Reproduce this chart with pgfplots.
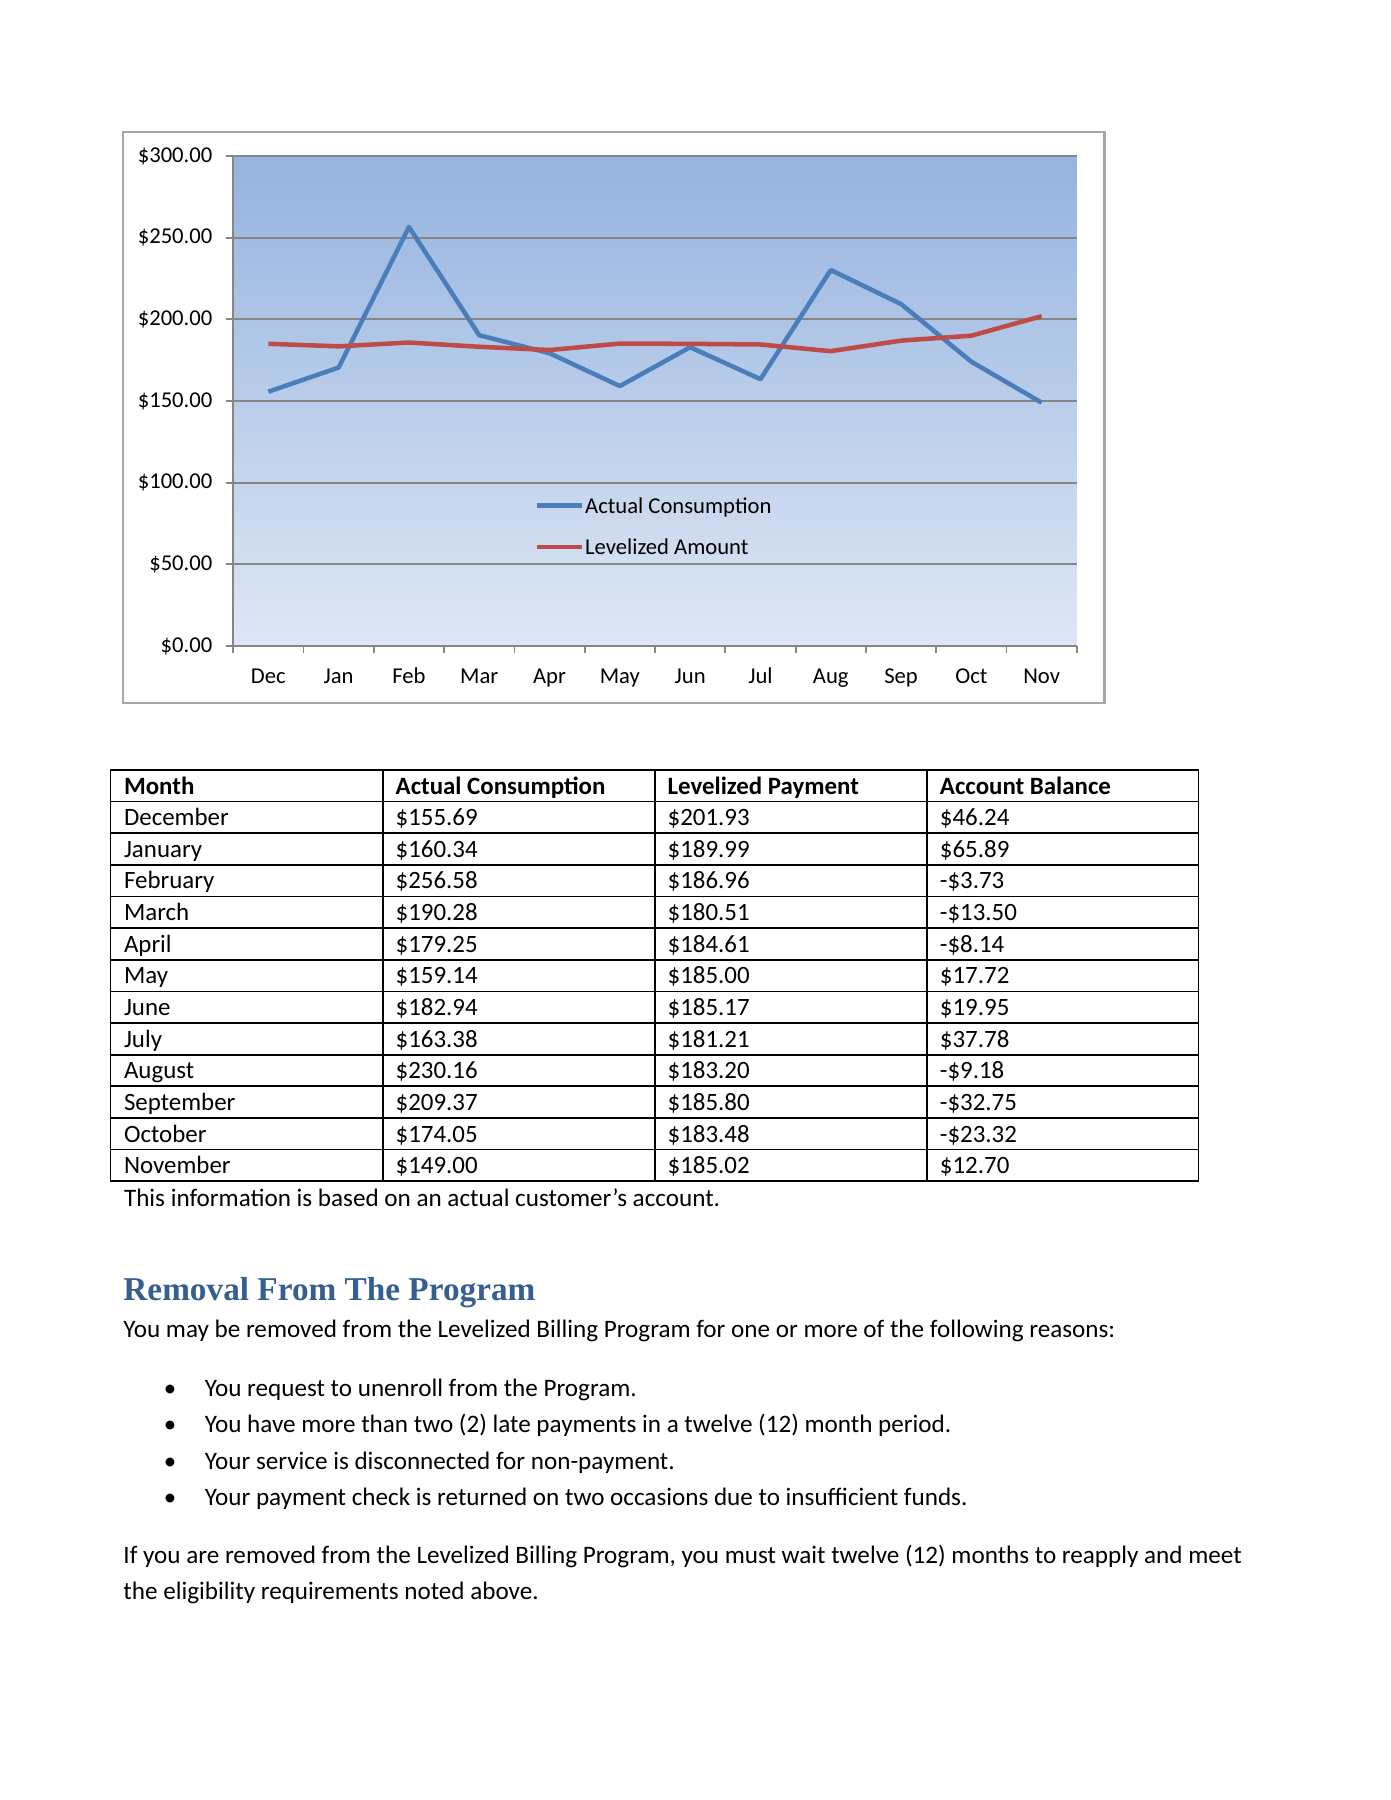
\documentclass[border=0pt]{standalone}
\usepackage{pgfplots}
\pgfplotsset{compat=1.18}
\usepackage{fontspec}
\setmainfont{Carlito}
\newfontfamily\headfont{Liberation Serif}
\definecolor{serA}{HTML}{4A7EBB}
\definecolor{serB}{HTML}{BE4B48}
\definecolor{gridc}{HTML}{868686}
\definecolor{framec}{HTML}{A6A6A6}
\definecolor{bgtop}{HTML}{95B3DF}
\definecolor{bgbot}{HTML}{DEE7F5}
\definecolor{headc}{HTML}{365F91}
% 1 px of the reference page (letter size, 1391x1800)
\def\u{0.44165pt}
\newcommand\bodyf{\fontsize{11}{13}\selectfont}
\newcommand\parf{\fontsize{11.1}{13}\selectfont}

\begin{document}
\begin{tikzpicture}
\begin{scope}[x=\u, y=-\u]
  \fill[white] (0,0) rectangle (1391,1800);
  % chart frame
  \draw[framec, line width=1pt] (123,132) rectangle (1104.6,703);

  % table
  \foreach \k in {0,...,13}
    \draw[line width=0.75pt] (110.4,770+31.63*\k) -- (1198.6,770+31.63*\k);
  \foreach \xx in {110.4,382.8,654.8,927,1198.6}
    \draw[line width=0.75pt] (\xx,770) -- (\xx,1181.2);
  \foreach \c/\xx in {Month/123.6, Actual Consumption/395.2, Levelized Payment/667.2, Account Balance/939.5}
    \node[anchor=base west, inner sep=0pt, font=\bodyf\bfseries] at (\xx,794.1) {\c};
  \foreach \r/\m/\a/\l/\b in {
     1/December/155.69/201.93/\$46.24,
     2/January/160.34/189.99/\$65.89,
     3/February/256.58/186.96/-\$3.73,
     4/March/190.28/180.51/-\$13.50,
     5/April/179.25/184.61/-\$8.14,
     6/May/159.14/185.00/\$17.72,
     7/June/182.94/185.17/\$19.95,
     8/July/163.38/181.21/\$37.78,
     9/August/230.16/183.20/-\$9.18,
     10/September/209.37/185.80/-\$32.75,
     11/October/174.05/183.48/-\$23.32,
     12/November/149.00/185.02/\$12.70}{
    \node[anchor=base west, inner sep=0pt, font=\bodyf] at (123.6,794.1+31.63*\r) {\m};
    \node[anchor=base west, inner sep=0pt, font=\bodyf] at (395.2,794.1+31.63*\r) {\$\a};
    \node[anchor=base west, inner sep=0pt, font=\bodyf] at (667.2,794.1+31.63*\r) {\$\l};
    \node[anchor=base west, inner sep=0pt, font=\bodyf] at (939.5,794.1+31.63*\r) {\b};
  }
  \node[anchor=base west, inner sep=0pt, font=\parf] at (123.6,1206) {This information is based on an actual customer’s account.};

  % text below
  \node[anchor=base west, inner sep=0pt, font=\fontsize{14.7}{17}\selectfont\headfont\bfseries, text=headc] at (123,1300.7) {Removal From The Program};
  \node[anchor=base west, inner sep=0pt, font=\parf] at (123,1337.5) {You may be removed from the Levelized Billing Program for one or more of the following reasons:};
  \foreach \yy/\t in {1396/You request to unenroll from the Program.,
      1432.5/You have more than two (2) late payments in a twelve (12) month period.,
      1469/Your service is disconnected for non-payment.,
      1505.5/Your payment check is returned on two occasions due to insufficient funds.}{
    \node[anchor=base, inner sep=0pt, font=\bodyf] at (170,\yy) {\textbullet};
    \node[anchor=base west, inner sep=0pt, font=\parf] at (204.3,\yy) {\t};
  }
  \node[anchor=base west, inner sep=0pt, font=\parf] at (123,1563) {If you are removed from the Levelized Billing Program, you must wait twelve (12) months to reapply and meet};
  \node[anchor=base west, inner sep=0pt, font=\parf] at (123,1599) {the eligibility requirements noted above.};
\end{scope}

\begin{axis}[
  at={(233.2*\u,-646*\u)}, anchor=south west,
  scale only axis, width=372.58pt, height=216.41pt,
  xmin=-0.5, xmax=11.5, ymin=0, ymax=300,
  xtick={0,...,11},
  xticklabels={Dec,Jan,Feb,Mar,Apr,May,Jun,Jul,Aug,Sep,Oct,Nov},
  minor xtick={-0.5,0.5,...,11.5},
  ytick={0,50,...,300},
  yticklabels={\$0.00,\$50.00,\$100.00,\$150.00,\$200.00,\$250.00,\$300.00},
  ymajorgrids, grid style={gridc, line width=0.8pt},
  axis x line*=bottom, axis y line*=left,
  axis line style={gridc, line width=0.8pt},
  tick align=outside,
  major tick length=3.1pt, minor tick length=3.1pt,
  tick style={gridc, line width=0.8pt},
  major x tick style={draw=none},
  axis background/.style={top color=bgtop, bottom color=bgbot},
  ticklabel style={font=\fontsize{10}{12}\selectfont, inner sep=0pt},
  yticklabel style={anchor=east, xshift=-5.9pt},
  xticklabel style={anchor=base, yshift=-13.4pt},
  legend style={draw=none, fill=none, inner sep=0pt, outer sep=0pt,
    at={(rel axis cs:0.3571,0.3031)}, anchor=north west,
    font=\fontsize{10}{12}\selectfont, row sep=9.24pt, column sep=0.4pt,
    nodes={inner sep=0pt, text height=7pt, text depth=2pt},
    cells={anchor=base west}},
  legend image code/.code={\draw[#1] (0pt,3.4pt) -- (20pt,3.4pt);},
]
\addplot[serA, line width=2pt, line join=round] coordinates {
  (0,155.69) (1,170.5) (2,256.58) (3,190.28) (4,179.25) (5,159.14)
  (6,182.94) (7,163.38) (8,230.16) (9,209.37) (10,174.05) (11,149.00)};
\addlegendentry{Actual Consumption}
\addplot[serB, line width=2pt, line join=round] coordinates {
  (0,185.02) (1,183.48) (2,185.80) (3,183.20) (4,181.21) (5,185.17)
  (6,185.00) (7,184.61) (8,180.51) (9,186.96) (10,189.99) (11,201.93)};
\addlegendentry{Levelized Amount}
\end{axis}
\end{tikzpicture}
\end{document}
